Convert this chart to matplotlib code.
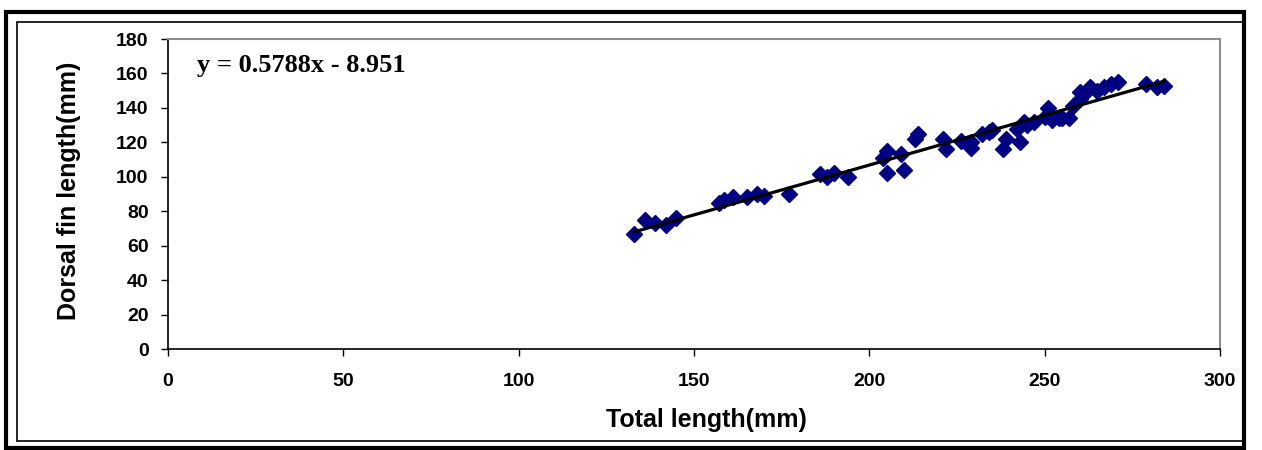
import numpy as np
import matplotlib
matplotlib.use("Agg")
import matplotlib.pyplot as plt
from matplotlib.patches import Rectangle

# Total length (mm) vs dorsal fin length (mm)
total_length = [133, 136, 139, 142, 145, 157, 158.5, 161, 165, 168, 170, 177,
                186, 188, 190, 194, 204, 205, 205, 209, 210, 213, 214, 221,
                222, 226, 229, 229, 232, 234, 235, 238, 239, 242, 243, 244,
                245, 247, 250, 251, 252, 254, 255, 257, 258, 260, 260, 262,
                263, 265, 267, 269, 271, 279, 282, 284]
dorsal_fin = [67, 75, 73, 72, 76, 85, 86.5, 88, 88, 90, 89, 90,
              101.5, 100, 102, 100, 111, 115, 102, 113, 104, 122, 125, 122,
              116, 121, 120, 117, 125, 126, 127, 116, 122, 128, 120, 132,
              130, 132, 135, 140, 133, 134, 134, 134, 141, 149, 145, 150,
              152, 150, 152, 154, 155, 154, 152, 153]

slope = 0.5788
intercept = -8.951
equation = "y = 0.5788x - 8.951"

x_ticks = [0, 50, 100, 150, 200, 250, 300]
y_ticks = [0, 20, 40, 60, 80, 100, 120, 140, 160, 180]

W, H = 1262, 450
fig = plt.figure(figsize=(W / 100, H / 100), dpi=100)
plt.rcParams['font.family'] = ['Liberation Sans', 'DejaVu Sans']

# plot area in pixels
left, right, top, bottom = 168, 1220, 39, 349
ax = fig.add_axes([left / W, 1 - bottom / H, (right - left) / W, (bottom - top) / H])

ax.plot(total_length, dorsal_fin, linestyle='none', marker='D', ms=8,
        color='#000080', mec='#000080')
xs = np.array([min(total_length), max(total_length)])
ax.plot(xs, slope * xs + intercept, color='black', lw=2.3)

ax.set_xlim(0, 300)
ax.set_ylim(0, 180)
ax.set_xticks(x_ticks)
ax.set_yticks(y_ticks)
ax.tick_params(axis='x', direction='out', length=5, width=1, pad=12, labelsize=14)
ax.tick_params(axis='y', direction='out', length=5, width=1, pad=9, labelsize=14)
for lab in ax.get_xticklabels() + ax.get_yticklabels():
    lab.set_fontweight('bold')

for side in ['left', 'bottom']:
    ax.spines[side].set_color('black')
    ax.spines[side].set_linewidth(1.2)
for side in ['top', 'right']:
    ax.spines[side].set_color('#8c8c8c')
    ax.spines[side].set_linewidth(1.5)

ax.set_xlabel('Total length(mm)', fontsize=18, fontweight='bold')
ax.set_ylabel('Dorsal fin length(mm)', fontsize=18, fontweight='bold')
ax.xaxis.set_label_coords(0.512, -0.19)
ax.yaxis.set_label_coords(-0.083, 0.51)

ax.text(0.028, 0.915, equation, transform=ax.transAxes, va='center', ha='left',
        fontsize=19, fontweight='bold', family=['Liberation Serif', 'DejaVu Serif'])

# outer frame: thick black border and thin inner line
fig.add_artist(Rectangle((6 / W, 1 - 448 / H), (1244 - 6) / W, (448 - 12) / H,
                         transform=fig.transFigure, fill=False, ec='black', lw=3))
fig.add_artist(Rectangle((17 / W, 1 - 441 / H), (1244 - 17) / W, (441 - 22) / H,
                         transform=fig.transFigure, fill=False, ec='black', lw=1.2))

fig.savefig('out.png', dpi=100, facecolor='white')
